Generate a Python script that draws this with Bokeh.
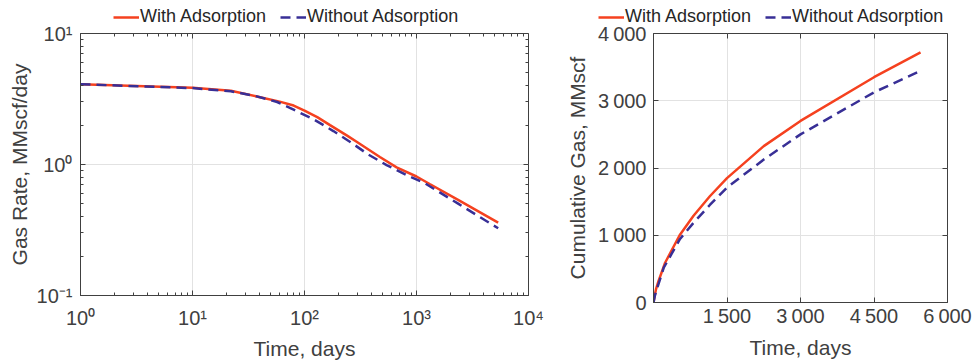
from bokeh.plotting import figure
from bokeh.layouts import row, column
from bokeh.models import (Range1d, FixedTicker, LogAxis, LinearAxis, Legend,
                          LegendItem, CustomJSTickFormatter)
from bokeh.embed import file_html
from bokeh.resources import INLINE

# ---------------- data ----------------
series_names = ["With Adsorption", "Without Adsorption"]

rate_t_with = [1, 10, 22, 43, 60, 80, 100, 130, 169, 240, 292, 471, 664, 1000, 1312, 2373, 5360]
rate_with = [4.10, 3.85, 3.65, 3.22, 3.02, 2.82, 2.58, 2.30, 2.00, 1.66, 1.49, 1.14, 0.95, 0.81, 0.71, 0.535, 0.36]

rate_t_without = [1, 10, 22, 36.5, 57, 80, 120, 181, 264, 372, 541, 815, 1184, 2373, 5360]
rate_without = [4.10, 3.83, 3.62, 3.33, 3.00, 2.62, 2.22, 1.80, 1.46, 1.19, 0.99, 0.83, 0.72, 0.50, 0.326]

cum_t_with = [0, 25, 50, 100, 237, 533, 817, 1150, 1500, 2250, 3000, 4500, 5450]
cum_with = [0, 105, 195, 314, 591, 1000, 1290, 1580, 1850, 2325, 2700, 3350, 3718]

cum_t_without = [0, 25, 55, 209, 541, 817, 1150, 1500, 2250, 3000, 4500, 5450]
cum_without = [0, 90, 170, 517, 945, 1185, 1450, 1710, 2125, 2500, 3125, 3446]

log_x_ticks = [1, 10, 100, 1000, 10000]
log_x_labels = ["10\u2070", "10\u00b9", "10\u00b2", "10\u00b3", "10\u2074"]
log_y_ticks = [0.1, 1, 10]
log_y_labels = ["10\u207b\u00b9", "10\u2070", "10\u00b9"]

cum_x_ticks = [1500, 3000, 4500, 6000]
cum_x_labels = ["1\u2009500", "3\u2009000", "4\u2009500", "6\u2009000"]
cum_y_ticks = [0, 1000, 2000, 3000, 4000]
cum_y_labels = ["0", "1\u2009000", "2\u2009000", "3\u2009000", "4\u2009000"]

# ---------------- style ----------------
FONT = "Liberation Sans"
TXT = "#404040"
AXC = "#404040"
GRID = "#e2e2e2"
RED = "#f5411f"
BLUE = "#382f96"
RED_STYLE = dict(line_color=RED, line_width=2.5)
BLUE_STYLE = dict(line_color=BLUE, line_width=2.5, line_dash="10 6")

log_x_minor = [k * 10 ** d for d in range(0, 4) for k in range(2, 10)]
log_y_minor = [k * 10.0 ** d for d in range(-1, 1) for k in range(2, 10)]


def style_axis(ax, ticker, labels=None, axis_label=None, standoff=7, label_standoff=3):
    ax.ticker = ticker
    if labels is not None:
        ax.major_label_overrides = {t: l for t, l in zip(ticker.ticks, labels)}
        ax.major_label_text_font_size = "20px"
        ax.major_label_standoff = standoff
    else:
        ax.formatter = CustomJSTickFormatter(code="return ''")
        ax.major_label_standoff = 0
    ax.major_tick_in = 5
    ax.major_tick_out = 0
    ax.minor_tick_in = 3
    ax.minor_tick_out = 0
    ax.axis_line_color = AXC
    ax.major_tick_line_color = AXC
    ax.minor_tick_line_color = AXC
    ax.major_label_text_font = FONT
    ax.major_label_text_color = TXT
    if axis_label:
        ax.axis_label = axis_label
        ax.axis_label_text_font = FONT
        ax.axis_label_text_font_size = "21px"
        ax.axis_label_text_font_style = "normal"
        ax.axis_label_text_color = TXT
        ax.axis_label_standoff = label_standoff


def base_fig(**kw):
    p = figure(output_backend="svg", toolbar_location=None, **kw)
    p.outline_line_color = AXC
    p.background_fill_color = "white"
    p.border_fill_alpha = 0
    return p


# ---------------- legend strip ----------------
pl = figure(width=973, height=33, x_range=Range1d(0, 1), y_range=Range1d(0, 1),
            output_backend="svg", toolbar_location=None, min_border=0)
pl.axis.visible = False
pl.grid.visible = False
pl.outline_line_color = None
lr = pl.line([-5, -4], [-5, -4], **RED_STYLE)
lb = pl.line([-5, -4], [-5, -4], **BLUE_STYLE)
for loc in [(113, 6), (598, 6)]:
    leg = Legend(items=[LegendItem(label=series_names[0], renderers=[lr]),
                        LegendItem(label=series_names[1], renderers=[lb])],
                 orientation="horizontal", location=loc,
                 label_text_font=FONT, label_text_font_size="18px",
                 label_text_color="#262626", glyph_width=26, label_standoff=1,
                 spacing=14, padding=0, margin=0, border_line_color=None,
                 background_fill_alpha=0, label_height=20, glyph_height=20)
    pl.add_layout(leg, "center")

# ---------------- left: rate ----------------
p1 = base_fig(width=560, height=341, x_axis_type="log", y_axis_type="log",
              x_range=Range1d(1, 1e4), y_range=Range1d(0.1, 10),
              min_border_left=80, min_border_right=32,
              min_border_top=11, min_border_bottom=68)

xt1 = FixedTicker(ticks=log_x_ticks, minor_ticks=log_x_minor)
yt1 = FixedTicker(ticks=log_y_ticks, minor_ticks=log_y_minor)
style_axis(p1.xaxis[0], xt1, log_x_labels, "Time, days", standoff=11, label_standoff=5)
style_axis(p1.yaxis[0], yt1, log_y_labels, "Gas Rate, MMscf/day", standoff=8, label_standoff=3)
ax_r = LogAxis(fixed_location=1e4)
style_axis(ax_r, FixedTicker(ticks=log_y_ticks, minor_ticks=log_y_minor))
p1.add_layout(ax_r, "right")
ax_t = LogAxis(fixed_location=10)
style_axis(ax_t, FixedTicker(ticks=log_x_ticks, minor_ticks=log_x_minor))
p1.add_layout(ax_t, "above")
p1.xgrid[0].ticker = FixedTicker(ticks=log_x_ticks)
p1.ygrid[0].ticker = FixedTicker(ticks=log_y_ticks)
p1.xgrid[0].grid_line_color = GRID
p1.ygrid[0].grid_line_color = GRID

p1.line(rate_t_with, rate_with, **RED_STYLE)
p1.line(rate_t_without, rate_without, **BLUE_STYLE)

# ---------------- right: cumulative ----------------
p2 = base_fig(width=413, height=348,
              x_range=Range1d(0, 6000), y_range=Range1d(0, 4000),
              min_border_left=93, min_border_right=26,
              min_border_top=11, min_border_bottom=68)

xt2 = FixedTicker(ticks=cum_x_ticks)
yt2 = FixedTicker(ticks=cum_y_ticks)
style_axis(p2.xaxis[0], xt2, cum_x_labels, "Time, days", standoff=2, label_standoff=6)
style_axis(p2.yaxis[0], yt2, cum_y_labels, "Cumulative Gas, MMscf", standoff=7, label_standoff=6)
ax_r2 = LinearAxis(fixed_location=6000)
style_axis(ax_r2, FixedTicker(ticks=cum_y_ticks))
p2.add_layout(ax_r2, "right")
ax_t2 = LinearAxis(fixed_location=4000)
style_axis(ax_t2, FixedTicker(ticks=cum_x_ticks))
p2.add_layout(ax_t2, "above")
p2.xgrid[0].ticker = FixedTicker(ticks=cum_x_ticks)
p2.ygrid[0].ticker = FixedTicker(ticks=cum_y_ticks)
p2.xgrid[0].grid_line_color = GRID
p2.ygrid[0].grid_line_color = GRID

p2.line(cum_t_with, cum_with, **RED_STYLE)
p2.line(cum_t_without, cum_without, **BLUE_STYLE)

plots = row(p1, p2, margin=(-11, 0, 0, 0))
layout = column(pl, plots)
open("out.html", "w").write(file_html(layout, INLINE))
